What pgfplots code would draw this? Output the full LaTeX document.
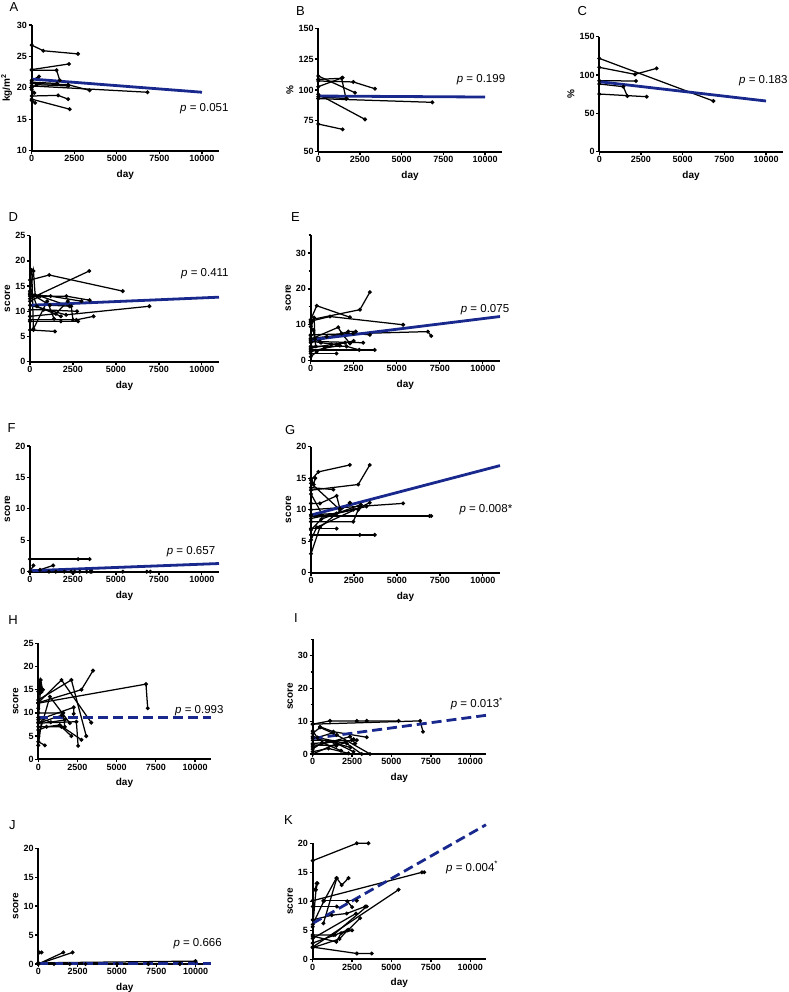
\documentclass[border=0pt]{standalone}
\usepackage{fontspec}
\setmainfont{Liberation Sans}
\usepackage{pgfplots}
\pgfplotsset{compat=1.18}
\definecolor{prismblue}{RGB}{24,40,140}
\pgfplotsset{
  panel/.style={
    scale only axis, clip=false,
    axis x line=bottom, axis y line=left,
    axis line style={-, line width=1.8pt},
    xmin=0, xmax=11000,
    xtick={0,2500,5000,7500,10000},
    scaled x ticks=false,
    tick align=outside,
    major tick length=3pt, minor tick length=2pt,
    tick style={black, line width=1.3pt},
    ticklabel style={font=\bfseries\fontsize{9}{10}\selectfont, inner sep=1.5pt},
    /pgf/number format/assume math mode=true,
    /pgf/number format/1000 sep={},
    xlabel={day},
    label style={font=\bfseries\fontsize{10}{11}\selectfont},
    xlabel style={yshift=-3pt},
    ylabel={score},
  },
  subj/.style={black, line width=1.25pt, mark=*, mark size=1.3pt},
  fit/.style={prismblue, line width=2.8pt, no marks},
  fitd/.style={fit, dash pattern=on 10pt off 5pt},
}
\begin{document}
\begin{tikzpicture}
\path[use as bounding box] (0,0) rectangle (788pt,992pt);

% ---------- A ----------
\begin{axis}[panel, at={(31.7pt,841.3pt)}, anchor=south west,
  width=187.3pt, height=125.7pt, ymin=10, ymax=30, ytick={10,15,20,25,30},
  ylabel={kg/m\textsuperscript{2}}]
\addplot[subj] coordinates {(0,26.8)(680,25.9)(2720,25.4)};
\addplot[subj] coordinates {(0,22.9)(2190,23.8)};
\addplot[subj] coordinates {(0,22.8)(1460,22.8)(1650,21.2)};
\addplot[subj] coordinates {(0,21.2)(430,21.8)};
\addplot[subj] coordinates {(0,20.7)(2140,20.5)(3400,19.6)};
\addplot[subj] coordinates {(0,20.3)(6800,19.3)};
\addplot[subj] coordinates {(0,20.9)(1500,20.7)};
\addplot[subj] coordinates {(0,20.0)(300,20.5)(2150,20.3)};
\addplot[subj] coordinates {(0,18.7)(1550,18.8)(2140,18.2)};
\addplot[subj] coordinates {(0,18.2)(2230,16.6)};
\addplot[subj] coordinates {(0,18.0)(200,17.6)};
\addplot[subj] coordinates {(0,19.7)(150,19.2)};
\addplot[fit] coordinates {(0,21.4)(10000,19.3)};
\end{axis}

% ---------- B ----------
\begin{axis}[panel, at={(318.3pt,840.3pt)}, anchor=south west,
  width=183.4pt, height=123.4pt, ymin=50, ymax=150, ytick={50,75,100,125,150},
  ylabel={\%}]
\addplot[subj] coordinates {(0,111.3)(2200,97.8)};
\addplot[subj] coordinates {(0,108.6)(1400,109.5)(1660,93)};
\addplot[subj] coordinates {(0,102.7)(1460,110)};
\addplot[subj] coordinates {(0,107.3)(2100,106.5)(3400,101)};
\addplot[subj] coordinates {(0,93)(6840,90)};
\addplot[subj] coordinates {(0,96.5)(2800,76.2)};
\addplot[subj] coordinates {(0,72.4)(1460,68.1)};
\addplot[subj] coordinates {(0,94.6)(1700,93)};
\addplot[fit] coordinates {(0,95.1)(10000,94.3)};
\end{axis}

% ---------- C ----------
\begin{axis}[panel, at={(599.3pt,840.3pt)}, anchor=south west,
  width=183.4pt, height=115pt, ymin=0, ymax=150, ytick={0,50,100,150},
  ylabel={\%}]
\addplot[subj] coordinates {(0,121.7)(6840,66.1)};
\addplot[subj] coordinates {(0,110)(2140,100.9)(3440,108.7)};
\addplot[subj] coordinates {(0,92.6)(2200,92.2)};
\addplot[subj] coordinates {(0,88.3)(1440,84.8)(1680,72.6)};
\addplot[subj] coordinates {(0,75.2)(2840,71.7)};
\addplot[fit] coordinates {(0,91.3)(10000,66.1)};
\end{axis}

% ---------- D ----------
\begin{axis}[panel, at={(30pt,630.3pt)}, anchor=south west,
  width=189pt, height=126pt, ymin=0, ymax=25, ytick={0,5,10,15,20,25}]
\addplot[subj] coordinates {(0,16.2)(1120,17.2)(5400,14.0)};
\addplot[subj] coordinates {(0,12.5)(3450,18.0)};
\addplot[subj] coordinates {(100,18.2)(200,6.3)};
\addplot[subj] coordinates {(0,14.0)(200,18.0)(300,13.2)};
\addplot[subj] coordinates {(0,6.3)(1450,6.0)};
\addplot[subj] coordinates {(0,8.3)(2700,8.3)(3700,9.0)};
\addplot[subj] coordinates {(0,8.0)(1800,8.0)(2800,8.0)};
\addplot[subj] coordinates {(0,11.2)(2100,9.3)(6950,11.0)};
\addplot[subj] coordinates {(0,13.0)(2120,13.0)(3470,12.2)};
\addplot[subj] coordinates {(0,13.6)(1160,11.2)(2400,11.0)(2500,8.3)};
\addplot[subj] coordinates {(0,10.3)(800,10.3)(2740,10.0)};
\addplot[subj] coordinates {(0,13.3)(1200,13.0)(3000,12.0)};
\addplot[subj] coordinates {(0,9.0)(1500,9.5)(2200,12.0)};
\addplot[subj] coordinates {(0,15.0)(400,11.0)(1800,9.0)};
\addplot[subj] coordinates {(0,12.0)(600,13.0)(2300,11.0)};
\addplot[subj] coordinates {(200,6.5)(1000,12.0)(1400,8.5)};
\addplot[fit] coordinates {(0,11.2)(11000,12.8)};
\end{axis}

% ---------- E ----------
\begin{axis}[panel, at={(310.7pt,631.3pt)}, anchor=south west,
  width=189.3pt, height=125.7pt, ymin=0, ymax=35, ytick={0,10,20,30},
  minor ytick={5,15,25,35}]
\addplot[subj] coordinates {(0,11.4)(350,15.3)(2280,12.1)};
\addplot[subj] coordinates {(0,11.4)(2860,14.2)(3440,19.1)};
\addplot[subj] coordinates {(0,11.0)(1120,12.3)(5370,10.0)};
\addplot[subj] coordinates {(0,7.2)(6810,8.1)(7000,6.9)};
\addplot[subj] coordinates {(0,2.0)(1500,2.0)};
\addplot[subj] coordinates {(0,3.0)(3720,3.0)};
\addplot[subj] coordinates {(0,4.0)(2080,4.0)(2820,3.0)};
\addplot[subj] coordinates {(540,5.3)(3050,5.0)};
\addplot[subj] coordinates {(0,6.0)(1600,9.3)(1800,7.6)(2280,4.8)};
\addplot[subj] coordinates {(0,1.1)(350,2.5)};
\addplot[subj] coordinates {(0,5.0)(2180,8.1)(2620,8.1)};
\addplot[subj] coordinates {(0,9.5)(150,8.5)(300,4.0)};
\addplot[subj] coordinates {(0,6.2)(930,6.7)(2470,7.6)(3440,7.2)};
\addplot[subj] coordinates {(0,3.5)(1200,4.5)(2000,5.0)};
\addplot[subj] coordinates {(0,10.5)(200,12.0)(250,6.0)};
\addplot[subj] coordinates {(0,5.5)(600,5.0)(1500,4.5)(2500,5.5)};
\addplot[subj] coordinates {(0,2.5)(800,3.5)(1700,4.2)};
\addplot[subj] coordinates {(0,7.0)(100,11.0)};
\addplot[fit] coordinates {(0,5.8)(11000,12.3)};
\end{axis}

% ---------- F ----------
\begin{axis}[panel, at={(30pt,420.3pt)}, anchor=south west,
  width=189pt, height=125.7pt, ymin=0, ymax=20, ytick={0,5,10,15,20}]
\addplot[subj] coordinates {(0,2)(2800,2)(3470,2)};
\addplot[subj] coordinates {(0,0)(200,1)};
\addplot[subj] coordinates {(0,0)(580,0.3)(1350,1)};
\addplot[subj] coordinates {(0,0)(1500,0)(3600,0)};
\addplot[subj] coordinates {(0,0)(2600,0)(5400,0)};
\addplot[subj] coordinates {(0,0)(3300,0)(6800,0)(7000,0)};
\addplot[subj] coordinates {(0,0)(2000,0)(2900,0)};
\addplot[subj] coordinates {(0,0)(1100,0)};
\addplot[subj] coordinates {(0,0)(2400,0)(3500,0)};
\addplot[fit] coordinates {(0,0.15)(11000,1.3)};
\end{axis}

% ---------- G ----------
\begin{axis}[panel, at={(311pt,419.3pt)}, anchor=south west,
  width=189pt, height=126pt, ymin=0, ymax=20, ytick={0,5,10,15,20}]
\addplot[subj] coordinates {(0,14.7)(430,16)(2260,17.1)};
\addplot[subj] coordinates {(0,13.1)(2750,14)(3420,17.1)};
\addplot[subj] coordinates {(0,15.0)(150,14.0)(250,15.0)};
\addplot[subj] coordinates {(0,14.2)(1680,10)};
\addplot[subj] coordinates {(0,11)(520,11)(1490,12.2)(1680,10.2)};
\addplot[subj] coordinates {(0,10)(5360,11)};
\addplot[subj] coordinates {(0,9)(6900,9)(7000,9)};
\addplot[subj] coordinates {(0,6)(2840,6)(3710,6)};
\addplot[subj] coordinates {(0,3)(520,7.2)(2260,11.1)};
\addplot[subj] coordinates {(0,7)(1490,7)};
\addplot[subj] coordinates {(0,8.1)(2460,8.1)(2750,10)};
\addplot[subj] coordinates {(0,5.2)(330,7.2)(3420,11.1)};
\addplot[subj] coordinates {(0,8.6)(3230,10.5)};
\addplot[subj] coordinates {(0,9.2)(1490,9.4)(2460,10)};
\addplot[subj] coordinates {(0,13.5)(1300,13.2)};
\addplot[subj] coordinates {(0,12.5)(700,9.0)(2800,10.2)};
\addplot[subj] coordinates {(0,6.8)(600,8.5)(2900,10.8)};
\addplot[fit] coordinates {(0,9.15)(11000,17)};
\end{axis}

% ---------- H ----------
\begin{axis}[panel, at={(38.3pt,232.7pt)}, anchor=south west,
  width=172.4pt, height=116pt, ymin=0, ymax=25, ytick={0,5,10,15,20,25}]
\addplot[subj] coordinates {(0,12.1)(6870,16.2)(6980,11)};
\addplot[subj] coordinates {(0,12.2)(2750,15)(3490,19.1)};
\addplot[subj] coordinates {(0,12.2)(1480,17.1)(3380,7.9)};
\addplot[subj] coordinates {(0,14.6)(150,17.1)(270,15)};
\addplot[subj] coordinates {(0,12.8)(2110,17.1)(3060,5)};
\addplot[subj] coordinates {(0,10)(1590,10)(1690,7)};
\addplot[subj] coordinates {(0,8.5)(2260,11.2)(2260,9.8)};
\addplot[subj] coordinates {(0,7.8)(2430,8.1)(2540,2.9)};
\addplot[subj] coordinates {(0,7)(1480,7)(2110,5)};
\addplot[subj] coordinates {(0,3.8)(420,3)};
\addplot[subj] coordinates {(0,6.3)(530,7)(1370,7.4)(2750,4.2)};
\addplot[subj] coordinates {(0,4.9)(740,13.5)(2010,7.8)};
\addplot[subj] coordinates {(0,8.0)(150,15.5)(300,15.0)};
\addplot[subj] coordinates {(0,3.0)(200,8.0)(1500,9.5)};
\addplot[subj] coordinates {(0,9.0)(800,8.0)(1700,8.5)};
\addplot[subj] coordinates {(0,11.0)(100,16.5)(200,14.5)};
\addplot[fitd] coordinates {(0,9.05)(11000,9.05)};
\end{axis}

% ---------- I ----------
\begin{axis}[panel, at={(312.7pt,238pt)}, anchor=south west,
  width=173.3pt, height=114.7pt, ymin=0, ymax=35, ytick={0,10,20,30},
  minor ytick={5,15,25,35}]
\addplot[subj] coordinates {(0,9.1)(1100,10.1)(2800,10.1)(3430,10.1)(5450,10.1)};
\addplot[subj] coordinates {(0,9.1)(6820,10.1)(7000,6.8)};
\addplot[subj] coordinates {(470,8.3)(1310,6.8)(3430,5.1)};
\addplot[subj] coordinates {(0,6.3)(470,8.1)(1530,5.8)(3640,0)};
\addplot[subj] coordinates {(0,2.2)(2370,5.3)(2690,3.2)};
\addplot[subj] coordinates {(0,4.2)(2800,4.2)};
\addplot[subj] coordinates {(0,0)(1530,3.2)(2480,4.2)};
\addplot[subj] coordinates {(0,3.2)(1310,3.7)(2590,0.7)};
\addplot[subj] coordinates {(0,5.3)(2160,3.2)(3110,0)};
\addplot[subj] coordinates {(0,0.7)(1000,1.7)(2270,0.2)};
\addplot[subj] coordinates {(0,2.8)(1500,2.5)(2600,4.5)};
\addplot[subj] coordinates {(0,7.0)(300,5.0)(1300,6.5)};
\addplot[subj] coordinates {(0,1.5)(600,3.5)(1800,1.0)};
\addplot[subj] coordinates {(0,4.8)(900,4.0)(2400,2.0)};
\addplot[fitd] coordinates {(0,4.75)(11000,11.8)};
\end{axis}

% ---------- J ----------
\begin{axis}[panel, at={(38.3pt,28pt)}, anchor=south west,
  width=173pt, height=115.7pt, ymin=0, ymax=20, ytick={0,5,10,15,20}]
\addplot[subj] coordinates {(60,2)(210,2)};
\addplot[subj] coordinates {(0,0)(1590,2)};
\addplot[subj] coordinates {(0,0)(2180,2)};
\addplot[subj] coordinates {(0,0.2)(10000,0.5)};
\addplot[subj] coordinates {(0,0)(1000,0)(2000,0)};
\addplot[subj] coordinates {(0,0)(3000,0)(5000,0)(7000,0)(9000,0)};
\addplot[fitd] coordinates {(0,0.1)(11000,0.1)};
\end{axis}

% ---------- K ----------
\begin{axis}[panel, at={(312.7pt,32.7pt)}, anchor=south west,
  width=173.3pt, height=116pt, ymin=0, ymax=20, ytick={0,5,10,15,20}]
\addplot[subj] coordinates {(0,17)(2800,20)(3540,20)};
\addplot[subj] coordinates {(0,10.1)(6930,15)(7080,15)};
\addplot[subj] coordinates {(680,10.1)(2800,10.1)};
\addplot[subj] coordinates {(150,12)(250,13.1)};
\addplot[subj] coordinates {(0,5.6)(210,12)(300,13.1)};
\addplot[subj] coordinates {(680,6.2)(1530,14)(1840,12.8)(2270,14)};
\addplot[subj] coordinates {(0,4.2)(1310,4.2)(3430,9.1)};
\addplot[subj] coordinates {(0,3.6)(2750,7.9)};
\addplot[subj] coordinates {(0,2.1)(2800,1)(3750,1)};
\addplot[subj] coordinates {(0,2.1)(5450,12)};
\addplot[subj] coordinates {(0,2.8)(1420,4.2)(2270,5.1)(3010,7.1)};
\addplot[subj] coordinates {(0,6.8)(1210,7.6)(2160,7.9)(3330,9.1)};
\addplot[subj] coordinates {(0,9.1)(1530,9.1)};
\addplot[subj] coordinates {(0,4.0)(1500,3.0)(1800,4.5)(2500,5.0)};
\addplot[subj] coordinates {(0,6.0)(700,10.0)(1500,14.0)};
\addplot[subj] coordinates {(0,2.0)(1700,3.5)(2200,5.0)};
\addplot[subj] coordinates {(2200,10.0)(2500,9.0)};
\addplot[fitd] coordinates {(0,6.2)(11000,23.2)};
\end{axis}

% panel letters
\begin{scope}[every node/.style={anchor=north west, inner sep=0pt, font=\fontsize{13}{14}\selectfont}]
\node at (9.3pt,989.3pt) {A};
\node at (296pt,986pt) {B};
\node at (577.3pt,986pt) {C};
\node at (8.5pt,780pt) {D};
\node at (291pt,780pt) {E};
\node at (7.3pt,568.7pt) {F};
\node at (285pt,567pt) {G};
\node at (8.3pt,377pt) {H};
\node at (294pt,379pt) {I};
\node at (9pt,172pt) {J};
\node at (284pt,177pt) {K};
\end{scope}

% p values
\begin{scope}[every node/.style={anchor=west, inner sep=0pt, font=\fontsize{11.5}{12}\selectfont}]
\node at (180pt,883pt) {\textit{p} = 0.051};
\node at (456.7pt,912.5pt) {\textit{p} = 0.199};
\node at (739pt,911.5pt) {\textit{p} = 0.183};
\node at (181pt,718pt) {\textit{p} = 0.411};
\node at (460.7pt,682.5pt) {\textit{p} = 0.075};
\node at (166.7pt,440pt) {\textit{p} = 0.657};
\node at (459.3pt,482.5pt) {\textit{p} = 0.008*};
\node at (175pt,281.5pt) {\textit{p} = 0.993};
\node at (450.7pt,288pt) {\textit{p} = 0.013\textsuperscript{*}};
\node at (173.3pt,48pt) {\textit{p} = 0.666};
\node at (446pt,124.5pt) {\textit{p} = 0.004\textsuperscript{*}};
\end{scope}
\end{tikzpicture}
\end{document}
